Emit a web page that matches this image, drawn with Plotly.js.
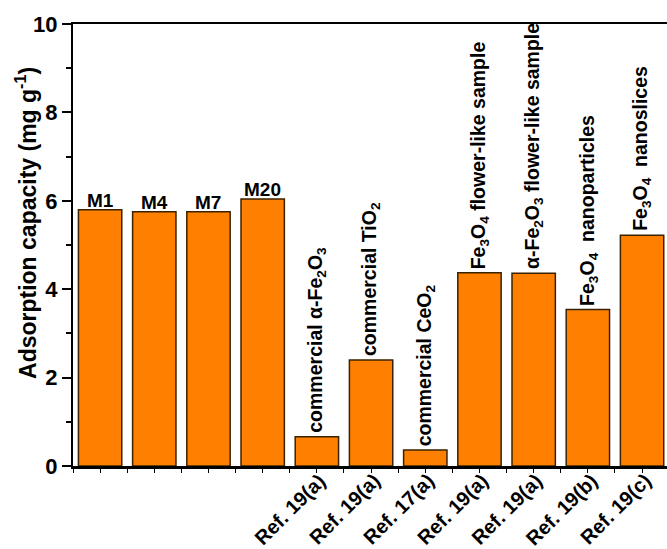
<!DOCTYPE html>
<html>
<head>
<meta charset="utf-8">
<script src="https://cdn.plot.ly/plotly-3.0.1.min.js"></script>
<style>html,body{margin:0;padding:0;background:#fff;}#chart{width:667px;height:549px;}</style>
</head>
<body>
<div id="chart"></div>
<script>
var sampleLabels = ['M1', 'M4', 'M7', 'M20',
  'commercial α-Fe<sub>2</sub>O<sub>3</sub>',
  'commercial TiO<sub>2</sub>',
  'commercial CeO<sub>2</sub>',
  'Fe<sub>3</sub>O<sub>4</sub> flower-like sample',
  'α-Fe<sub>2</sub>O<sub>3</sub> flower-like sample',
  'Fe<sub>3</sub>O<sub>4</sub>  nanoparticles',
  'Fe<sub>3</sub>O<sub>4</sub>  nanoslices'];
var refLabels = ['', '', '', '', 'Ref. 19(a)', 'Ref. 19(a)', 'Ref. 17(a)', 'Ref. 19(a)', 'Ref. 19(a)', 'Ref. 19(b)', 'Ref. 19(c)'];
var capacity = [5.80, 5.75, 5.75, 6.04, 0.66, 2.40, 0.36, 4.37, 4.36, 3.54, 5.22];
var yTicks = [0, 2, 4, 6, 8, 10];

var FONT = 'Liberation Sans, Arial, sans-serif';
var xs = capacity.map(function (v, i) { return i; });

var tickVals = [];
xs.forEach(function (x) { tickVals.push(x - 0.5); tickVals.push(x); });

var trace = {
  type: 'bar',
  x: xs,
  y: capacity,
  width: 0.8,
  marker: { color: 'rgb(255,128,0)', line: { color: '#3a2200', width: 1.5 } },
  hoverinfo: 'none'
};

var annotations = sampleLabels.map(function (t, i) {
  var vertical = i >= 4;
  return {
    x: xs[i], y: capacity[i], xref: 'x', yref: 'y',
    text: t, showarrow: false,
    textangle: vertical ? -90 : 0,
    xanchor: 'center', yanchor: 'bottom',
    yshift: vertical ? 2 : -3,
    font: { family: FONT, size: vertical ? 19.5 : 19, weight: 'bold', color: '#000' }
  };
});
refLabels.forEach(function (t, i) {
  if (!t) return;
  annotations.push({
    x: xs[i], y: 0, xref: 'x', yref: 'y',
    text: t, showarrow: false, textangle: -45,
    xanchor: 'right', yanchor: 'top', xshift: 16, yshift: -1,
    font: { family: FONT, size: 20, weight: 'bold', color: '#000' }
  });
});
annotations.push({
  xref: 'paper', yref: 'paper', x: -0.079, y: 0.55,
  xanchor: 'center', yanchor: 'middle', textangle: -90, showarrow: false,
  text: 'Adsorption capacity (mg g<sup>-1</sup>)',
  font: { family: FONT, size: 23, weight: 'bold', color: '#000' }
});

var layout = {
  width: 667, height: 549,
  margin: { l: 73, r: 0, t: 24, b: 83 },
  paper_bgcolor: '#fff', plot_bgcolor: '#fff',
  showlegend: false,
  xaxis: {
    range: [-0.5, 10.46],
    tickmode: 'array', tickvals: tickVals, showticklabels: false,
    ticks: 'outside', ticklen: 4, tickwidth: 1, tickcolor: '#000',
    showline: true, linecolor: '#000', linewidth: 2.5, mirror: true,
    showgrid: false, zeroline: false
  },
  yaxis: {
    range: [0, 10],
    tickmode: 'array', tickvals: yTicks,
    ticks: 'outside', ticklen: 9, tickwidth: 2, tickcolor: '#000',
    minor: { dtick: 1, tick0: 0, ticks: 'outside', ticklen: 5, tickwidth: 2, tickcolor: '#000' },
    showline: true, linecolor: '#000', linewidth: 2,
    showgrid: false, zeroline: false,
    tickfont: { family: FONT, size: 22, weight: 'bold', color: '#000' }
  },
  annotations: annotations
};

Plotly.newPlot('chart', [trace], layout, { displayModeBar: false, staticPlot: true });
</script>
</body>
</html>
